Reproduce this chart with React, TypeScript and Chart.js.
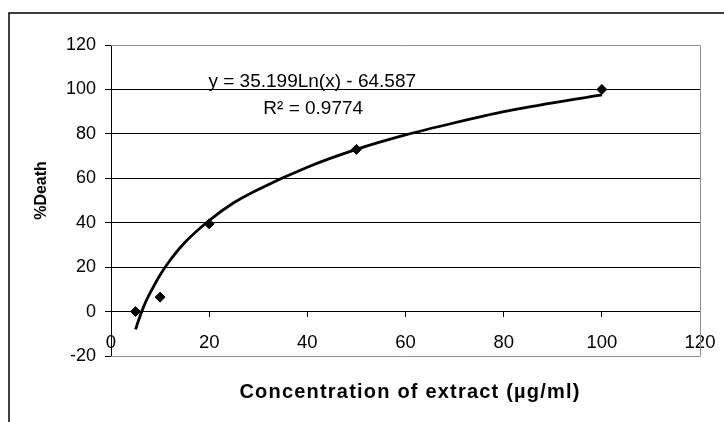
import { useEffect, useRef } from "react";
import { Chart, registerables } from "chart.js";

Chart.register(...registerables);

// ---- data ----
const sampleConcentrations = [5, 10, 20, 50, 100];
const sampleDeaths = [0, 6.5, 39.5, 73, 100];

// logarithmic trend line as drawn in the picture
const trendConcentrations = [5, 6, 7, 8, 10, 12, 15, 20, 25, 30, 40, 50, 60, 70, 80, 90, 100];
const trendDeaths = [-8, -1.5, 4, 8.5, 16.5, 23, 31, 41, 49, 55, 65, 73, 79.5, 85, 90, 94, 97.5];

const xTickValues = [0, 20, 40, 60, 80, 100, 120];
const yTickValues = [-20, 0, 20, 40, 60, 80, 100, 120];

const equationText = "y = 35.199Ln(x) - 64.587";
const rSquaredText = "R\u00B2 = 0.9774";
const xTitleText = "Concentration of extract (\u00B5g/ml)";
const yTitleText = "%Death";

const FONT = '"Liberation Sans", Arial, Helvetica, sans-serif';

const decorPlugin = {
  id: "decor",
  beforeDatasetsDraw(chart: any) {
    const { ctx, chartArea: a } = chart;
    ctx.save();
    ctx.strokeStyle = "#8f8f8f";
    ctx.lineWidth = 1;
    ctx.beginPath();
    ctx.moveTo(a.left, Math.round(a.top) + 0.5);
    ctx.lineTo(Math.round(a.right) + 0.5, Math.round(a.top) + 0.5);
    ctx.lineTo(Math.round(a.right) + 0.5, Math.round(a.bottom) + 0.5);
    ctx.lineTo(a.left, Math.round(a.bottom) + 0.5);
    ctx.stroke();
    ctx.restore();
  },
  afterDraw(chart: any) {
    const { ctx } = chart;
    const xs = chart.scales.x;
    const ys = chart.scales.y;
    ctx.save();
    // outer frame
    ctx.strokeStyle = "#000";
    ctx.lineWidth = 1.5;
    ctx.strokeRect(9, 13, 900, 600);

    // annotation (trend equation)
    ctx.fillStyle = "#000";
    ctx.textAlign = "center";
    ctx.textBaseline = "middle";
    ctx.font = `19px ${FONT}`;
    ctx.fillText(equationText, xs.getPixelForValue(41), ys.getPixelForValue(103.5));
    ctx.fillText(rSquaredText, xs.getPixelForValue(41.2), ys.getPixelForValue(91.5));

    // x axis title
    ctx.font = `bold 20px ${FONT}`;
    try {
      (ctx as any).letterSpacing = "1.2px";
    } catch (e) {}
    ctx.fillText(xTitleText, 410, 392);
    try {
      (ctx as any).letterSpacing = "0px";
    } catch (e) {}

    // y axis title
    ctx.translate(42, 190.5);
    ctx.rotate(-Math.PI / 2);
    ctx.font = `bold 16px ${FONT}`;
    ctx.fillText(yTitleText, 0, 0);
    ctx.restore();
  },
};

export default function App() {
  const canvasRef = useRef<HTMLCanvasElement | null>(null);

  useEffect(() => {
    const canvas = canvasRef.current;
    if (!canvas) return;
    const chart = new Chart(canvas, {
      type: "scatter",
      data: {
        datasets: [
          {
            label: "Trend",
            data: trendConcentrations.map((x, i) => ({ x, y: trendDeaths[i] })),
            showLine: true,
            borderColor: "#000",
            borderWidth: 2.8,
            pointRadius: 0,
            cubicInterpolationMode: "monotone",
            order: 2,
          },
          {
            label: "%Death",
            data: sampleConcentrations.map((x, i) => ({ x, y: sampleDeaths[i] })),
            showLine: false,
            pointStyle: "rectRot",
            pointRadius: 5,
            backgroundColor: "#000",
            borderColor: "#000",
            borderWidth: 1,
            order: 1,
          },
        ],
      },
      options: {
        responsive: false,
        animation: false,
        events: [],
        layout: { padding: { left: 0, top: 45, right: 24, bottom: 66 } },
        plugins: {
          legend: { display: false },
          tooltip: { enabled: false },
          title: { display: false },
        },
        scales: {
          x: {
            type: "linear",
            position: { y: 0 } as any,
            min: xTickValues[0],
            max: xTickValues[xTickValues.length - 1],
            afterBuildTicks: (scale: any) => {
              scale.ticks = xTickValues.map((v) => ({ value: v }));
            },
            afterFit: (scale: any) => {
              scale.paddingLeft = 0;
              scale.paddingRight = 0;
            },
            ticks: {
              color: "#000",
              font: { family: FONT, size: 18.5 },
              padding: 15,
              maxRotation: 0,
            },
            grid: {
              drawOnChartArea: false,
              drawTicks: true,
              tickLength: 5,
              tickColor: "#000",
              color: "#000",
            },
            border: { display: true, color: "#000", width: 1 },
          },
          y: {
            type: "linear",
            min: yTickValues[0],
            max: yTickValues[yTickValues.length - 1],
            afterBuildTicks: (scale: any) => {
              scale.ticks = yTickValues.map((v) => ({ value: v }));
            },
            afterFit: (scale: any) => {
              scale.width = 111;
              scale.paddingTop = 0;
              scale.paddingBottom = 0;
            },
            ticks: {
              color: "#000",
              font: { family: FONT, size: 18 },
              padding: 9,
            },
            grid: {
              color: (c: any) =>
                c.tick && (c.tick.value === yTickValues[0] || c.tick.value === yTickValues[yTickValues.length - 1])
                  ? "rgba(0,0,0,0)"
                  : "#000",
              tickColor: "#000",
              tickLength: 6,
              lineWidth: 1,
            },
            border: { display: true, color: "#000", width: 1 },
          },
        },
      },
      plugins: [decorPlugin],
    });
    return () => chart.destroy();
  }, []);

  return (
    <div style={{ position: "fixed", left: 0, top: 0, width: 724, height: 422, background: "#fff" }}>
      <canvas ref={canvasRef} width={724} height={422} style={{ display: "block" }} />
    </div>
  );
}
